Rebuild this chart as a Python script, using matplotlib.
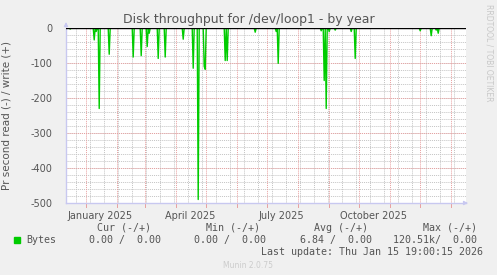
"""Munin style yearly disk throughput chart for /dev/loop1."""

import matplotlib
matplotlib.use("Agg")
import matplotlib.pyplot as plt
import pandas as pd

# read spikes (negative = read), everything else is zero
read_days = [
    "2024-12-16", "2025-01-09", "2025-01-11", "2025-01-14", "2025-01-24",
    "2025-02-17", "2025-02-25", "2025-03-03", "2025-03-05", "2025-03-14",
    "2025-03-21", "2025-04-08", "2025-04-18", "2025-04-23", "2025-04-29",
    "2025-04-30", "2025-05-20", "2025-05-22", "2025-06-19", "2025-07-10",
    "2025-07-12", "2025-08-24", "2025-08-27", "2025-08-29", "2025-09-01",
    "2025-09-07", "2025-09-23", "2025-09-27", "2025-12-01", "2025-12-12",
    "2025-12-17", "2025-12-19",
]
read_values = [
    -3, -34, -10, -230, -75,
    -83, -79, -53, -15, -87,
    -83, -32, -115, -490, -110,
    -118, -93, -93, -12, -10,
    -101, -8, -150, -230, -10,
    -6, -10, -87, -8, -22,
    -6, -15,
]
y_ticks = [0, -100, -200, -300, -400, -500]
x_labels = ["January 2025", "April 2025", "July 2025", "October 2025"]
x_label_dates = ["2025-01-15", "2025-04-15", "2025-07-15", "2025-10-15"]

start = pd.Timestamp("2024-12-11 19:00")
end = pd.Timestamp("2026-01-15 19:00")

BG = "#f0f0f0"
TXT = "#555555"
AXIS = "#c8c8f0"
MINOR = "#c4c4c4"
MAJOR = "#e8a0a0"
GREEN = "#00cc00"

fig = plt.figure(figsize=(4.97, 2.75), dpi=100, facecolor=BG)
ax = fig.add_axes([66 / 497, 72 / 275, 400 / 497, 175 / 275])
ax.set_facecolor("white")

# daily series
days = pd.date_range(start.normalize(), end.normalize(), freq="D")
series = pd.Series(0.0, index=days)
series[pd.to_datetime(read_days)] = read_values

# grid
for d in pd.date_range("2024-12-08", end, freq="14D"):
    if d > start:
        ax.axvline(d, color=MINOR, lw=0.7, ls=(0, (1, 1)), zorder=0)
for v in range(-500, 1, 20):
    ax.axhline(v, color=MINOR, lw=0.7, ls=(0, (1, 1)), zorder=0)
for d in pd.date_range("2025-01-01", end, freq="MS"):
    ax.axvline(d, color=MAJOR, lw=0.7, ls=(0, (1, 1)), zorder=0.5)
for v in y_ticks:
    ax.axhline(v, color=MAJOR, lw=0.7, ls=(0, (1, 1)), zorder=0.5)

ax.plot(series.index, series.values, color=GREEN, lw=1.0, zorder=2)
ax.axhline(0, color="black", lw=1.0, zorder=3)

ax.set_xlim(start, end)
ax.set_ylim(-500, 0)

ax.set_yticks(y_ticks)
ax.set_yticklabels([str(v) for v in y_ticks])
ax.set_xticks(pd.to_datetime(x_label_dates))
ax.set_xticklabels(x_labels)
ax.tick_params(axis="both", length=0, colors=TXT, labelsize=7)
ax.tick_params(axis="y", pad=10)
ax.tick_params(axis="x", pad=6)

# month tick marks below the axis
for d in pd.date_range("2025-01-01", end, freq="MS"):
    ax.plot([d, d], [-500, -510], color=MAJOR, lw=0.7, clip_on=False, zorder=1)

for side in ("top", "right"):
    ax.spines[side].set_visible(False)
for side in ("left", "bottom"):
    ax.spines[side].set_color(AXIS)
    ax.spines[side].set_linewidth(1.0)

# axis arrows
ax.annotate("", xy=(1.012, 0), xytext=(0.99, 0), xycoords="axes fraction",
            arrowprops=dict(arrowstyle="-|>", color=AXIS, lw=0.8, mutation_scale=6))
ax.annotate("", xy=(0, 1.05), xytext=(0, 0.99), xycoords="axes fraction",
            arrowprops=dict(arrowstyle="-|>", color=AXIS, lw=0.8, mutation_scale=6))

ax.set_ylabel("Pr second read (-) / write (+)", color=TXT, fontsize=7.5, labelpad=4)
ax.yaxis.set_label_coords(-54 / 400, 0.5)

fig.text(249 / 497, 1 - 19 / 275, "Disk throughput for /dev/loop1 - by year",
         ha="center", va="center", color=TXT, fontsize=9)
fig.text(489 / 497, 1 - 53 / 275, "RRDTOOL / TOBI OETIKER", rotation=-90,
         ha="center", va="center", color="#c8c8c8", fontsize=5.5)

# legend block
mono = dict(family="DejaVu Sans Mono", fontsize=7.2, color=TXT, va="center")
fig.text(151 / 497, 1 - 228 / 275, "Cur (-/+)", ha="right", **mono)
fig.text(260 / 497, 1 - 228 / 275, "Min (-/+)", ha="right", **mono)
fig.text(368 / 497, 1 - 228 / 275, "Avg (-/+)", ha="right", **mono)
fig.text(477 / 497, 1 - 228 / 275, "Max (-/+)", ha="right", **mono)

fig.patches.append(plt.Rectangle((14 / 497, 1 - 243 / 275), 6 / 497, 6 / 275,
                                 transform=fig.transFigure, color=GREEN))
fig.text(26 / 497, 1 - 240 / 275, "Bytes", ha="left", **mono)
fig.text(161 / 497, 1 - 240 / 275, "0.00 /  0.00", ha="right", **mono)
fig.text(266 / 497, 1 - 240 / 275, "0.00 /  0.00", ha="right", **mono)
fig.text(372 / 497, 1 - 240 / 275, "6.84 /  0.00", ha="right", **mono)
fig.text(477 / 497, 1 - 240 / 275, "120.51k/  0.00", ha="right", **mono)
fig.text(483 / 497, 1 - 252 / 275, "Last update: Thu Jan 15 19:00:15 2026", ha="right", **mono)

fig.text(248 / 497, 1 - 265 / 275, "Munin 2.0.75", ha="center", va="center",
         color="#cccccc", fontsize=5.5)

fig.savefig("out.png", dpi=100, facecolor=BG)
